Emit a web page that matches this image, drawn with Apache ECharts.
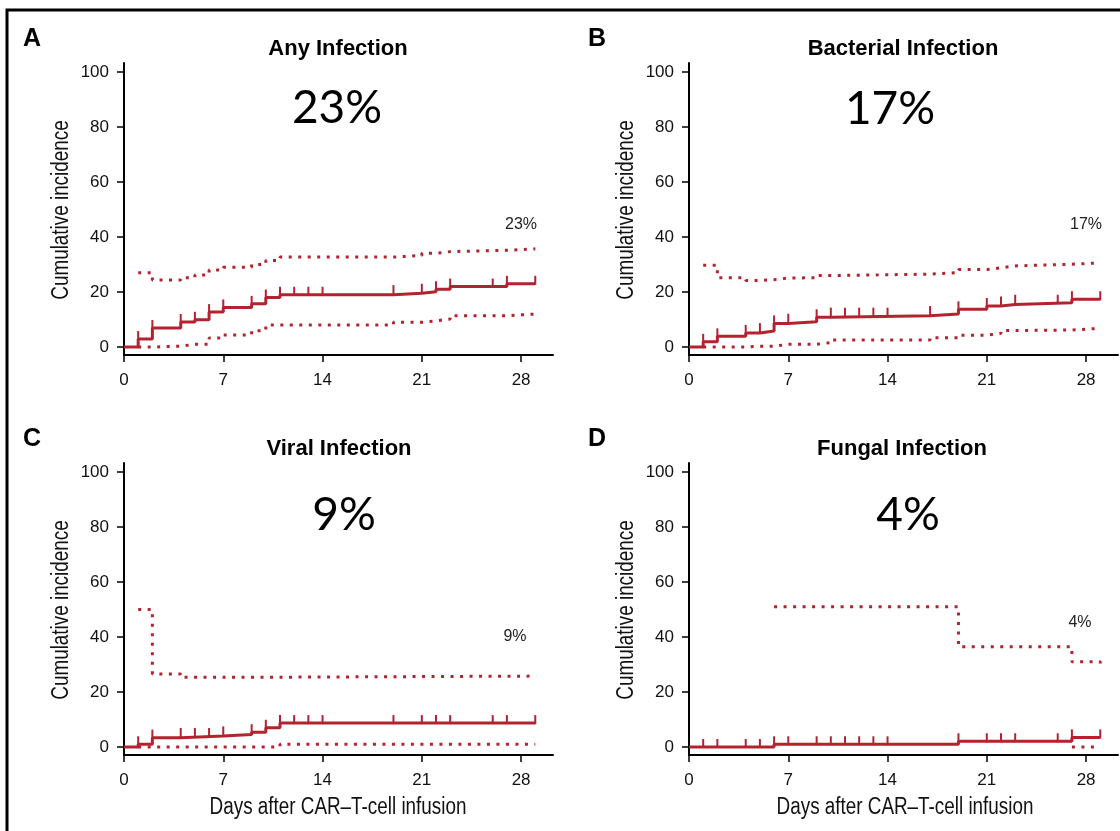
<!DOCTYPE html>
<html>
<head>
<meta charset="utf-8">
<script src="https://cdn.jsdelivr.net/npm/echarts@6/dist/echarts.min.js"></script>
<style>
  html, body { margin: 0; padding: 0; background: #ffffff; }
  #chart { width: 1120px; height: 831px; }
</style>
</head>
<body>
<div id="chart"></div>
<script>
// Axis ticks
const dayTicks = [0, 7, 14, 21, 28];
const incidenceTicks = [0, 20, 40, 60, 80, 100];

const panelLetters = ['A', 'B', 'C', 'D'];
const panelTitles = ['Any Infection', 'Bacterial Infection', 'Viral Infection', 'Fungal Infection'];
const xAxisName = 'Days after CAR\u2013T-cell infusion';
const yAxisName = 'Cumulative incidence';

// A: any infection
const anyTimes      = [0, 1, 2, 4, 5, 6, 7, 9, 10, 11, 19, 21, 22, 23, 27, 29];
const anyEstimate   = [0, 2.9, 6.9, 9.1, 9.9, 12.7, 14.4, 15.7, 18.0, 19.0, 19.6, 20.1, 21.0, 22.0, 23.0, 23.0];
const anyCiTimes    = [1, 2, 4, 5, 6, 7, 9, 10, 11, 19, 21, 22, 23, 27, 29];
const anyUpper      = [27.0, 24.4, 25.2, 26.2, 28.0, 29.0, 30.0, 31.5, 32.7, 33.3, 34.1, 34.7, 35.2, 35.7, 35.7];
const anyLower      = [0, 0.3, 1.0, 1.0, 3.3, 4.4, 5.9, 8.0, 8.0, 9.0, 9.5, 10.2, 11.4, 12.0, 12.0];
const anyCensored   = [1, 2, 4, 5, 6, 7, 9, 10, 11, 12, 13, 14, 19, 21, 22, 23, 26, 27, 29];

// B: bacterial infection
const bactTimes     = [0, 1, 2, 4, 5, 6, 7, 9, 10, 17, 19, 21, 22, 23, 27, 29];
const bactEstimate  = [0, 1.9, 3.9, 5.1, 5.8, 8.6, 9.2, 10.8, 11.4, 12.0, 13.7, 14.9, 15.5, 16.1, 17.4, 17.4];
const bactCiTimes   = [1, 2, 4, 5, 6, 7, 9, 10, 17, 19, 21, 22, 23, 27, 29];
const bactUpper     = [29.7, 25.2, 24.2, 24.5, 25.1, 25.2, 26.0, 26.5, 27.1, 28.2, 28.8, 29.5, 30.1, 30.6, 30.6];
const bactLower     = [0, 0, 0.3, 0.3, 1.0, 1.0, 1.6, 2.6, 3.4, 4.3, 5.0, 6.0, 6.2, 6.8, 6.8];
const bactCensored  = [1, 2, 4, 5, 6, 7, 9, 10, 11, 12, 13, 14, 17, 19, 21, 22, 23, 26, 27, 29];

// C: viral infection
const viralTimes    = [0, 1, 2, 4, 7, 9, 10, 11, 29];
const viralEstimate = [0, 1.0, 3.4, 4.0, 4.6, 5.4, 7.0, 8.7, 8.7];
const viralCiTimes  = [1, 2, 4, 11, 29];
const viralUpper    = [50.0, 26.6, 25.4, 25.8, 25.8];
const viralLower    = [0, 0, 0, 1.0, 1.0];
const viralCensored = [1, 2, 4, 5, 6, 7, 9, 10, 11, 12, 13, 14, 19, 21, 22, 23, 26, 27, 29];

// D: fungal infection
const fungTimes      = [0, 6, 19, 27, 29];
const fungEstimate   = [0, 1.0, 2.1, 3.5, 3.5];
const fungUpperTimes = [6, 19, 27, 29];
const fungUpper      = [51.0, 36.5, 31.0, 30.3];
const fungLowerTimes = [27, 29];
const fungLower      = [0, 0];
const fungCensored   = [1, 2, 4, 5, 6, 7, 9, 10, 11, 12, 13, 14, 19, 21, 22, 23, 26, 27, 29];

const panels = [
  { times: anyTimes, est: anyEstimate, upT: anyCiTimes, up: anyUpper, loT: anyCiTimes, lo: anyLower, cens: anyCensored },
  { times: bactTimes, est: bactEstimate, upT: bactCiTimes, up: bactUpper, loT: bactCiTimes, lo: bactLower, cens: bactCensored },
  { times: viralTimes, est: viralEstimate, upT: viralCiTimes, up: viralUpper, loT: viralCiTimes, lo: viralLower, cens: viralCensored },
  { times: fungTimes, est: fungEstimate, upT: fungUpperTimes, up: fungUpper, loT: fungLowerTimes, lo: fungLower, cens: fungCensored }
];

const RED = '#b3232f';
const INK = '#111111';
const FONT = '"Liberation Sans", Arial, Helvetica, sans-serif';

const zip = (a, b) => a.map((t, i) => [t, b[i]]);
function valueAt(times, vals, t) {
  let v = vals[0];
  for (let i = 0; i < times.length; i++) if (times[i] <= t) v = vals[i];
  return v;
}
const pct = p => Math.round(p.est[p.est.length - 1]) + '%';

// Panel layout (pixels)
const gridLeft = [124, 689, 124, 689];
const gridTop = [63, 63, 463, 463];
const gridW = 429, gridH = 292;

const grids = [], xAxes = [], yAxes = [], series = [], graphics = [];

panels.forEach((p, i) => {
  grids.push({ left: gridLeft[i], top: gridTop[i], width: gridW, height: gridH, containLabel: false });

  xAxes.push({
    gridIndex: i, type: 'value', min: 0, max: 30.25,
    axisLine: { show: true, onZero: false, lineStyle: { color: '#000', width: 2 } },
    axisTick: { show: true, customValues: dayTicks, length: 7, lineStyle: { color: '#000', width: 1.5 } },
    axisLabel: { customValues: dayTicks, margin: 17, fontSize: 17, color: INK, fontFamily: FONT },
    splitLine: { show: false }
  });

  yAxes.push({
    gridIndex: i, type: 'value', min: -2.9, max: 103.3,
    axisLine: { show: true, onZero: false, lineStyle: { color: '#000', width: 2 } },
    axisTick: { show: true, customValues: incidenceTicks, length: 7, lineStyle: { color: '#000', width: 1.5 } },
    axisLabel: { customValues: incidenceTicks, margin: 15, fontSize: 17, color: INK, fontFamily: FONT },
    splitLine: { show: false }
  });

  const ciStyle = { color: RED, width: 3, type: [3, 6.5], cap: 'butt' };
  series.push({
    type: 'line', xAxisIndex: i, yAxisIndex: i, step: 'end', data: zip(p.upT, p.up),
    symbol: 'none', lineStyle: ciStyle, z: 2, silent: true
  });
  series.push({
    type: 'line', xAxisIndex: i, yAxisIndex: i, step: 'end', data: zip(p.loT, p.lo),
    symbol: 'none', lineStyle: ciStyle, z: 2, silent: true
  });
  series.push({
    type: 'line', xAxisIndex: i, yAxisIndex: i, step: 'end', data: zip(p.times, p.est),
    symbol: 'none', lineStyle: { color: RED, width: 3 }, z: 3, silent: true
  });
  // censoring marks: short vertical ticks sitting on the curve
  series.push({
    type: 'custom', xAxisIndex: i, yAxisIndex: i, z: 4, silent: true,
    data: p.cens.map(t => [t, valueAt(p.times, p.est, t)]),
    renderItem: (params, api) => {
      const pt = api.coord([api.value(0), api.value(1)]);
      return {
        type: 'line',
        shape: { x1: pt[0], y1: pt[1] + 1, x2: pt[0], y2: pt[1] - 8 },
        style: { stroke: RED, lineWidth: 2 }
      };
    }
  });
});

// Panel letters, titles, axis names and percentage annotations
const letterPos = [[32, 39], [597, 39], [32, 439], [597, 439]];
const titlePos = [[338, 49], [903, 49], [339, 449], [902, 449]];
const bigPos = [[337, 108], [890, 109], [344, 515], [908, 515]];
const smallPos = [[521, 225], [1086, 225], [515, 637], [1080, 623]];
const yNamePos = [[62, 210], [627, 210], [62, 610], [627, 610]];
const xNamePos = [[338, 808], [905, 808]];

const txt = (x, y, text, font, fill, extra) => Object.assign({
  type: 'text', x, y, silent: true,
  style: { text, font, fill, textAlign: 'center', textVerticalAlign: 'middle' }
}, extra || {});

panels.forEach((p, i) => {
  graphics.push(txt(letterPos[i][0], letterPos[i][1], panelLetters[i], 'bold 25px ' + FONT, '#000'));
  graphics.push(txt(titlePos[i][0], titlePos[i][1], panelTitles[i], 'bold 22px ' + FONT, '#000'));
  graphics.push(txt(bigPos[i][0], bigPos[i][1], pct(p), '46px Lato, "Open Sans", sans-serif', '#000'));
  graphics.push(txt(smallPos[i][0], smallPos[i][1], pct(p), '16px ' + FONT, '#222'));
  // condensed axis names
  graphics.push(txt(yNamePos[i][0], yNamePos[i][1], yAxisName, '23px ' + FONT, INK,
    { rotation: Math.PI / 2, scaleX: 0.82 }));
});
xNamePos.forEach(pos => graphics.push(txt(pos[0], pos[1], xAxisName, '23px ' + FONT, INK, { scaleX: 0.82 })));

// outer frame
graphics.push({
  type: 'rect', silent: true, z: 10,
  shape: { x: 7, y: 10, width: 1130, height: 840 },
  style: { fill: 'none', stroke: '#000', lineWidth: 3 }
});

const chart = echarts.init(document.getElementById('chart'), null, { renderer: 'canvas' });
chart.setOption({
  animation: false,
  backgroundColor: '#ffffff',
  grid: grids,
  xAxis: xAxes,
  yAxis: yAxes,
  series: series,
  graphic: graphics
});
</script>
</body>
</html>
